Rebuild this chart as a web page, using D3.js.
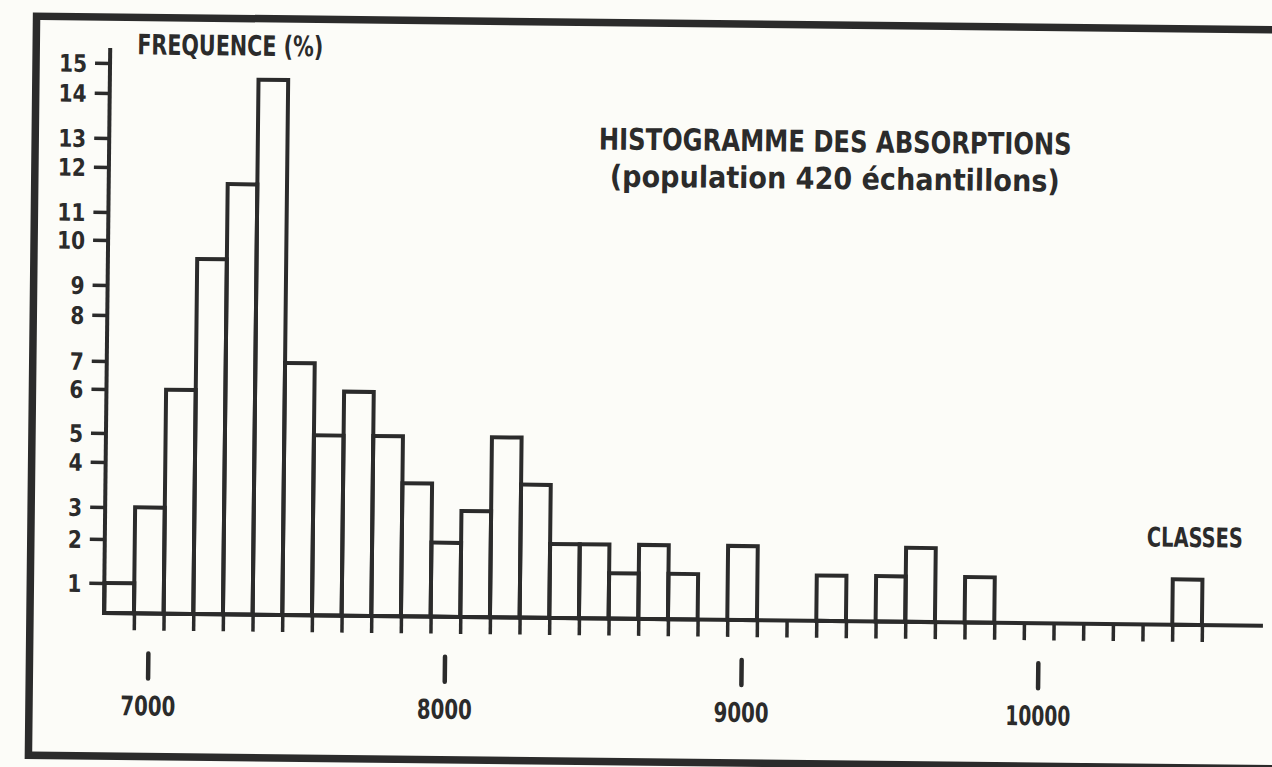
<!DOCTYPE html>
<html>
<head>
<meta charset="utf-8">
<script src="https://cdn.jsdelivr.net/npm/d3@7"></script>
<style>
    body { margin: 0; background: #fcfcf8; }
    svg text { font-family: "Liberation Sans Narrow", "DejaVu Sans Condensed", "Liberation Sans", sans-serif; font-weight: bold; fill: #2b2b2b; }
</style>
</head>
<body>
<div id="chart"></div>
<script>
// class centres (absorption) and frequency of each class in %
var classCenters = [6900, 7000, 7100, 7200, 7300, 7400, 7500, 7600, 7700, 7800,
                    7900, 8000, 8100, 8200, 8300, 8400, 8500, 8600, 8700, 8800,
                    8900, 9000, 9100, 9200, 9300, 9400, 9500, 9600, 9700, 9800,
                    9900, 10000, 10100, 10200, 10300, 10400, 10500];
var frequencies = [1.0, 3.0, 6.0, 9.6, 11.65, 14.5, 7.0, 5.0, 6.0, 5.0,
                   3.6, 2.0, 3.0, 5.0, 3.6, 2.0, 2.0, 1.35, 2.0, 1.35,
                   0, 2.0, 0, 0, 1.35, 0, 1.35, 2.0, 0, 1.35,
                   0, 0, 0, 0, 0, 0, 1.35];
var yTicks = [1, 2, 3, 4, 5, 6, 7, 8, 9, 10, 11, 12, 13, 14, 15];
var xLabels = [7000, 8000, 9000, 10000];
var titleLines = ["HISTOGRAMME DES ABSORPTIONS", "(population 420 échantillons)"];

function drawHistogram() {
    var width = 1272, height = 767;
    var ink = "#2b2b2b";
    var originX = 104, baseY = 613;

    // the printed y axis is not evenly spaced: pixel height of each tick above the baseline
    var yTickHeights = [0, 30, 74, 106, 151, 180, 224, 252, 298, 328, 373, 401, 446, 475, 520, 550];

    var svg = d3.select("#chart").append("svg")
        .attr("width", width)
        .attr("height", height);

    svg.append("rect")
        .attr("width", width)
        .attr("height", height)
        .attr("fill", "#fcfcf8");

    // the scanned page is slightly turned
    var g = svg.append("g")
        .attr("transform", "rotate(0.63," + originX + "," + baseY + ")");

    // frame
    g.append("rect")
        .attr("x", 30)
        .attr("y", 17)
        .attr("width", 1300)
        .attr("height", 739)
        .attr("fill", "none")
        .attr("stroke", ink)
        .attr("stroke-width", 7.5);

    // set the ranges
    var x = d3.scaleLinear().domain([6850, 10550]).range([originX + 0.3, 1202]);
    var y = d3.scaleLinear()
        .domain(d3.range(0, 16))
        .range(yTickHeights.map(function(h) { return baseY - h; }));

    var bins = classCenters.map(function(c, i) { return {center: c, value: frequencies[i]}; })
        .filter(function(d) { return d.value > 0; });

    // bars
    g.selectAll(".bar")
        .data(bins)
        .enter().append("rect")
        .attr("class", "bar")
        .attr("x", function(d) { return x(d.center - 50); })
        .attr("y", function(d) { return y(d.value); })
        .attr("width", function(d) { return x(d.center + 50) - x(d.center - 50); })
        .attr("height", function(d) { return baseY - y(d.value); })
        .attr("fill", "none")
        .attr("stroke", ink)
        .attr("stroke-width", 4);

    // x axis: class boundaries
    var xAxis = g.append("g")
        .attr("transform", "translate(0," + baseY + ")")
        .call(d3.axisBottom(x)
            .tickValues(classCenters.map(function(c) { return c + 50; }))
            .tickSize(17)
            .tickSizeOuter(0)
            .tickFormat(""));
    xAxis.select(".domain").remove();
    xAxis.selectAll("line").attr("stroke", ink).attr("stroke-width", 3.5);

    g.append("line")
        .attr("x1", originX).attr("x2", 1263)
        .attr("y1", baseY).attr("y2", baseY)
        .attr("stroke", ink)
        .attr("stroke-width", 4);

    // labelled marks under the axis
    g.selectAll(".major")
        .data(xLabels)
        .enter().append("line")
        .attr("class", "major")
        .attr("x1", function(d) { return x(d); })
        .attr("x2", function(d) { return x(d); })
        .attr("y1", baseY + 40)
        .attr("y2", baseY + 65)
        .attr("stroke", ink)
        .attr("stroke-width", 4.5)
        .attr("stroke-linecap", "round");

    g.selectAll(".xlabel")
        .data(xLabels)
        .enter().append("text")
        .attr("class", "xlabel")
        .attr("x", function(d) { return x(d); })
        .attr("y", baseY + 102)
        .attr("text-anchor", "middle")
        .attr("font-size", 27)
        .attr("textLength", function(d) { return d >= 10000 ? 65 : 55; })
        .attr("lengthAdjust", "spacingAndGlyphs")
        .text(function(d) { return d; });

    // y axis
    var yAxis = g.append("g")
        .attr("transform", "translate(" + originX + ",0)")
        .call(d3.axisLeft(y)
            .tickValues(yTicks)
            .tickSize(15)
            .tickSizeOuter(0)
            .tickPadding(8));
    yAxis.select(".domain").remove();
    yAxis.selectAll("line").attr("stroke", ink).attr("stroke-width", 3.5);
    yAxis.selectAll("text")
        .attr("font-size", 24)
        .attr("fill", ink)
        .attr("dy", "0.36em")
        .attr("textLength", function(d) { return d >= 10 ? 28 : 14; })
        .attr("lengthAdjust", "spacingAndGlyphs");

    g.append("line")
        .attr("x1", originX).attr("x2", originX)
        .attr("y1", baseY + 2).attr("y2", y(15) - 15)
        .attr("stroke", ink)
        .attr("stroke-width", 4);

    // axis titles
    g.append("text")
        .attr("x", 131)
        .attr("y", 54)
        .attr("font-size", 28)
        .attr("textLength", 186)
        .attr("lengthAdjust", "spacingAndGlyphs")
        .text("FREQUENCE (%)");

    g.append("text")
        .attr("x", 1194)
        .attr("y", 535)
        .attr("text-anchor", "middle")
        .attr("font-size", 27)
        .attr("textLength", 96)
        .attr("lengthAdjust", "spacingAndGlyphs")
        .text("CLASSES");

    // title
    g.selectAll(".title")
        .data(titleLines)
        .enter().append("text")
        .attr("class", "title")
        .attr("x", 830)
        .attr("y", function(d, i) { return i == 0 ? 144 : 181; })
        .attr("text-anchor", "middle")
        .attr("font-size", 30)
        .attr("textLength", function(d, i) { return i == 0 ? 473 : 450; })
        .attr("lengthAdjust", "spacingAndGlyphs")
        .text(function(d) { return d; });
}

drawHistogram();
</script>
</body>
</html>
